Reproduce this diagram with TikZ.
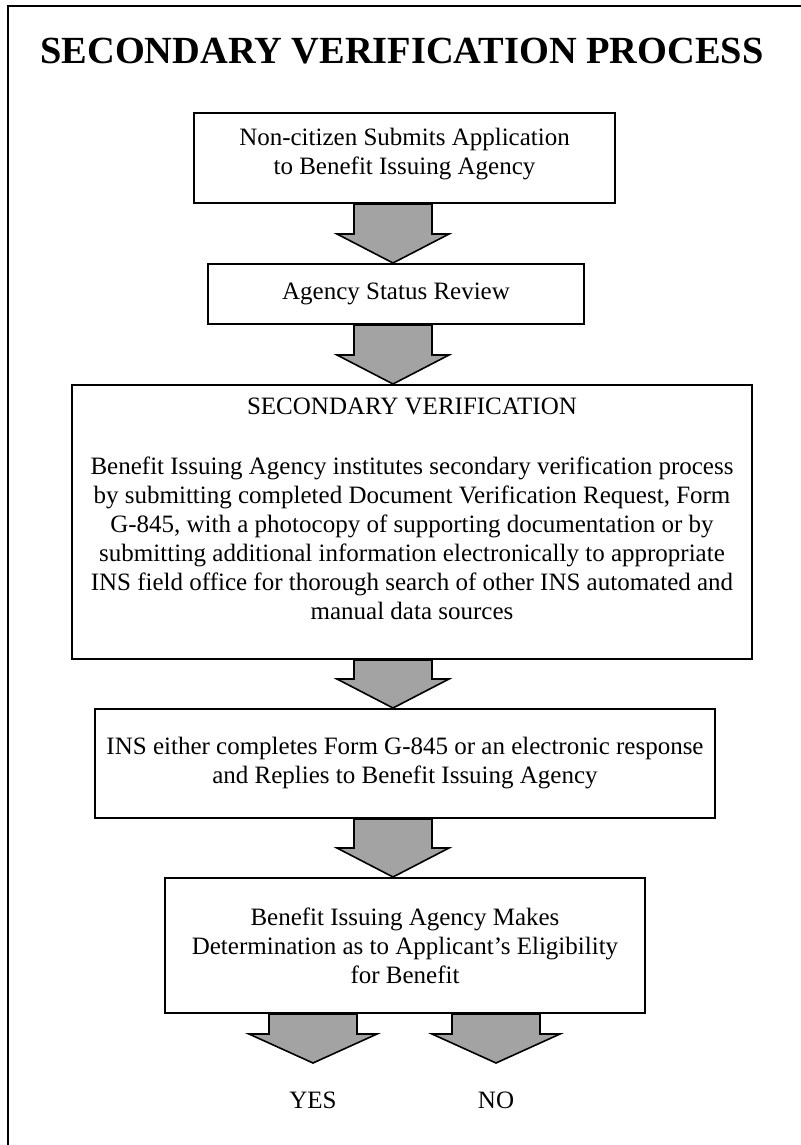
\documentclass[tikz,border=0pt]{standalone}
\usepackage{fontspec}
\setmainfont{Liberation Serif}
\usetikzlibrary{calc,positioning}
\tikzstyle{Abox}=[draw,line width=2pt,align=center,inner sep=0pt,font=\fontsize{25}{29}\selectfont]
\tikzstyle{Ablk}=[draw,line width=1.6pt,fill=black!36,line join=miter]
\tikzstyle{Aans}=[inner sep=0pt,font=\fontsize{25}{29}\selectfont]
\newcommand{\blk}[4]{\draw[Ablk] let \p1=(#1), \p2=(#2) in (\x2-#3pt,\y1) -- (\x2+#3pt,\y1) -- (\x2+#3pt,\y2+29pt) -- (\x2+#4pt,\y2+29pt) -- (\x2,\y2) -- (\x2-#4pt,\y2+29pt) -- (\x2-#3pt,\y2+29pt) -- cycle;}

\begin{document}
\begin{tikzpicture}[x=1pt,y=-1pt]
  \useasboundingbox (0,0) rectangle (800,1145);
  \draw[line width=2.2pt] (8,1150) -- (8,6) -- (805,6);
  \node[anchor=base,font=\fontsize{38.4}{40}\bfseries\selectfont] (title) at (402,64) {SECONDARY VERIFICATION PROCESS};
  \coordinate (ax) at (393,0);
  \node[Abox,minimum width=421pt,minimum height=90pt,text depth=14pt] (n1) at (404.5,158) {Non-citizen Submits Application\\to Benefit Issuing Agency};
  \node[Abox,minimum width=376pt,minimum height=60pt,below=59pt of n1,xshift=-8.5pt] (n2) {Agency Status Review};
  \node[Abox,minimum width=680pt,minimum height=274pt,text depth=26pt,below=59pt of n2,xshift=16pt] (n3) {SECONDARY VERIFICATION\\[31pt]Benefit Issuing Agency institutes secondary verification process\\by submitting completed Document Verification Request, Form\\G-845, with a photocopy of supporting documentation or by\\submitting additional information electronically to appropriate\\INS field office for thorough search of other INS automated and\\manual data sources};
  \node[Abox,minimum width=620pt,minimum height=109pt,below=48pt of n3,xshift=-7pt] (n4) {INS either completes Form G-845 or an electronic response\\and Replies to Benefit Issuing Agency};
  \node[Abox,minimum width=480pt,minimum height=135pt,below=58pt of n4] (n5) {Benefit Issuing Agency Makes\\Determination as to Applicant's Eligibility\\for Benefit};
  \coordinate (yestip) at (313,1063);
  \coordinate (notip) at (496,1063);
  \node[Aans,below=29pt of yestip] (yes) {YES};
  \node[Aans,below=29pt of notip] (no) {NO};
  \blk{n1.south}{n2.north -| ax}{39}{56}
  \blk{n2.south}{n3.north -| ax}{39}{56}
  \blk{n3.south}{n4.north -| ax}{39}{56}
  \blk{n4.south}{n5.north -| ax}{39}{56}
  \blk{n5.south}{yestip}{44}{64}
  \blk{n5.south}{notip}{44}{64}
\end{tikzpicture}
\end{document}
